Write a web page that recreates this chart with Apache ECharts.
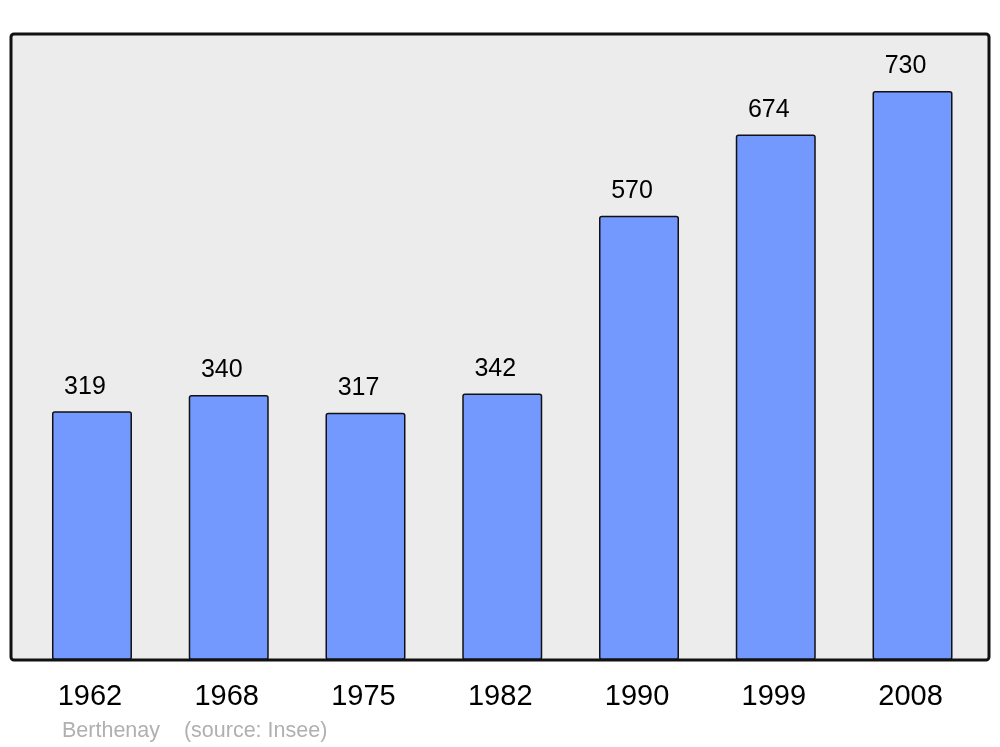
<!DOCTYPE html>
<html><head><meta charset="utf-8">
<script src="https://cdn.jsdelivr.net/npm/echarts@6/dist/echarts.min.js"></script>
<style>html,body{margin:0;padding:0;background:#fff}#c{width:1000px;height:747px}</style>
</head><body><div id="c"></div>
<script>
const years = ['1962','1968','1975','1982','1990','1999','2008'];
const population = [319, 340, 317, 342, 570, 674, 730];
const sourceText = 'Berthenay    (source: Insee)';

const chart = echarts.init(document.getElementById('c'), null, {renderer:'canvas'});
chart.setOption({
  animation: false,
  backgroundColor: '#ffffff',
  grid: {left: 23.6, width: 957.3, top: 34, height: 626},
  xAxis: {
    type: 'category', data: years,
    axisLine: {show: false}, axisTick: {show: false},
    axisLabel: {margin: 22, fontSize: 29, color: '#000', fontFamily: 'Liberation Sans, Arial, sans-serif', padding: [0, 4, 0, 0]}
  },
  yAxis: {type: 'value', min: 0, max: 803, show: false, splitLine: {show: false}},
  graphic: [
    {type: 'rect', z: -1, shape: {x: 11, y: 34, width: 978, height: 626, r: 3}, style: {fill: '#ececec'}},
    {type: 'rect', z: 100, shape: {x: 11, y: 34, width: 978, height: 626, r: 3}, style: {fill: null, stroke: '#111', lineWidth: 3}},
    {type: 'text', left: 62, top: 720, style: {text: sourceText, fontSize: 21.5, fill: '#b0b0b0', fontFamily: 'Liberation Sans, Arial, sans-serif'}}
  ],
  series: [{
    type: 'bar', data: population, barWidth: 80,
    itemStyle: {color: '#7399ff', borderColor: '#111', borderWidth: 1.5, borderRadius: 2},
    label: {show: true, position: 'top', distance: 12, offset: [-7, 0], fontSize: 25, color: '#000', fontFamily: 'Liberation Sans, Arial, sans-serif'}
  }]
});
</script></body></html>
